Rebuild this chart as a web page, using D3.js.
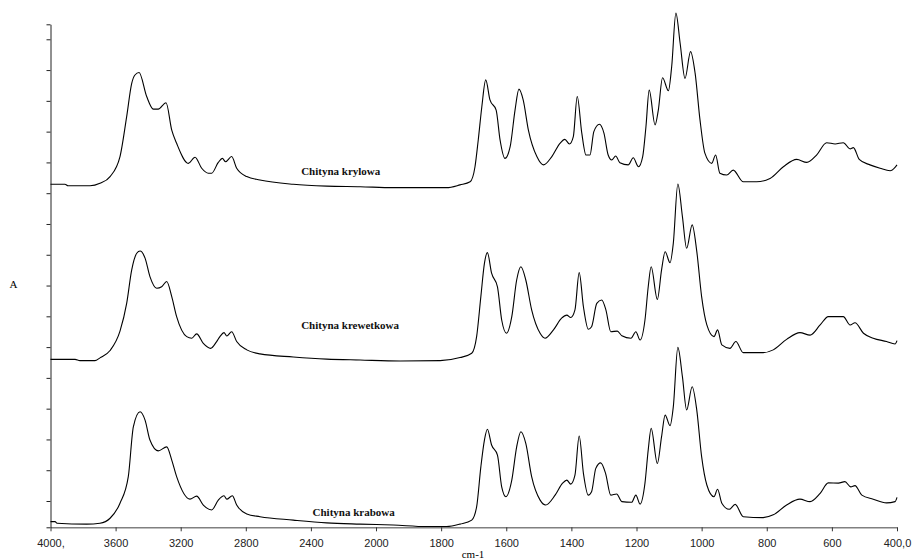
<!DOCTYPE html>
<html lang="pl">
<head>
<meta charset="UTF-8">
<title>Chityna FTIR</title>
<script src="https://cdnjs.cloudflare.com/ajax/libs/d3/7.8.0/d3.min.js"></script>
<style>
    body { margin: 0; background: #fff; }
    svg { display: block; font-family: "Liberation Serif", "Times New Roman", serif; }
    .spectrum { fill: none; stroke: #000; stroke-width: 1.1; }
    .tick text { font-size: 11px; fill: #222; }
    .label { font-size: 11px; font-weight: bold; fill: #111; }
</style>
</head>
<body>
<svg id="viz" width="912" height="560"></svg>
<script>
// wavenumbers (cm-1) and absorbance, one list per sample
const krylowaWn = [4000,3911,3892,3757,3696,3634,3573,3532,3501,3481,3456,3409,3368,3338,3290,3255,3225,3153,3112,3071,3030,3010,2969,2944,2924,2887,2856,2794,2713,2508,2303,2098,1947,1783,1742,1711,1696,1686,1675,1663,1650,1631,1619,1604,1588,1573,1561,1548,1532,1506,1486,1460,1435,1420,1406,1394,1382,1368,1355,1343,1331,1314,1300,1287,1276,1264,1251,1225,1210,1194,1181,1171,1161,1143,1133,1120,1102,1092,1079,1066,1051,1034,1020,1005,990,969,957,944,923,903,872,831,790,749,708,677,647,616,590,565,544,534,516,483,452,421,406,400];
const krylowaA = [1.029,1.029,1.024,1.024,1.032,1.054,1.119,1.249,1.357,1.384,1.392,1.314,1.273,1.273,1.294,1.205,1.162,1.097,1.117,1.081,1.065,1.065,1.100,1.113,1.102,1.119,1.081,1.054,1.043,1.029,1.023,1.021,1.018,1.018,1.027,1.037,1.086,1.173,1.281,1.368,1.303,1.270,1.173,1.113,1.151,1.270,1.338,1.303,1.205,1.119,1.092,1.119,1.162,1.175,1.160,1.184,1.314,1.195,1.124,1.124,1.200,1.224,1.195,1.124,1.108,1.121,1.099,1.092,1.115,1.086,1.119,1.216,1.335,1.222,1.270,1.375,1.333,1.411,1.585,1.487,1.373,1.460,1.390,1.238,1.130,1.097,1.124,1.065,1.059,1.075,1.037,1.037,1.048,1.086,1.110,1.100,1.124,1.164,1.160,1.164,1.144,1.148,1.110,1.092,1.081,1.073,1.084,1.092];

const krewetkowaWn = [4000,3849,3819,3727,3696,3634,3573,3532,3501,3470,3450,3419,3389,3347,3317,3286,3255,3225,3163,3132,3102,3061,3016,2979,2959,2934,2917,2887,2856,2794,2713,2508,2303,2098,1926,1803,1742,1706,1691,1678,1667,1658,1645,1627,1614,1599,1583,1568,1555,1540,1522,1496,1481,1455,1430,1414,1402,1389,1376,1363,1348,1338,1322,1307,1294,1279,1259,1245,1217,1202,1189,1174,1164,1155,1136,1123,1112,1097,1087,1073,1059,1046,1029,1015,1000,984,962,951,938,913,895,872,811,780,739,698,667,636,611,565,544,529,503,473,432,406,400];
const krewetkowaA = [0.460,0.460,0.456,0.456,0.465,0.489,0.552,0.642,0.751,0.805,0.812,0.789,0.729,0.691,0.696,0.713,0.664,0.599,0.534,0.529,0.543,0.512,0.496,0.518,0.534,0.547,0.536,0.550,0.518,0.491,0.478,0.468,0.461,0.458,0.455,0.456,0.466,0.480,0.534,0.664,0.772,0.807,0.740,0.696,0.588,0.545,0.599,0.718,0.761,0.718,0.621,0.545,0.529,0.556,0.594,0.604,0.596,0.621,0.742,0.631,0.558,0.566,0.642,0.653,0.621,0.550,0.552,0.537,0.529,0.550,0.523,0.588,0.696,0.761,0.655,0.751,0.810,0.774,0.837,1.030,0.924,0.821,0.897,0.812,0.664,0.572,0.534,0.556,0.507,0.496,0.518,0.482,0.482,0.491,0.525,0.547,0.539,0.572,0.599,0.599,0.572,0.579,0.545,0.529,0.518,0.510,0.521];

const krabowaWn = [4000,3972,3960,3778,3696,3634,3573,3522,3491,3450,3419,3389,3338,3286,3255,3225,3143,3102,3061,3010,2969,2934,2917,2883,2856,2794,2713,2508,2303,2098,1947,1844,1783,1742,1706,1691,1678,1667,1658,1645,1627,1614,1601,1583,1568,1555,1540,1522,1496,1479,1450,1427,1414,1402,1389,1376,1363,1348,1338,1325,1310,1295,1279,1261,1245,1215,1202,1189,1174,1164,1155,1136,1123,1112,1097,1087,1073,1059,1046,1029,1015,1000,984,962,951,938,915,897,872,811,780,739,698,667,636,611,580,560,542,529,508,473,432,406,400];
const krabowaA = [-0.067,-0.067,-0.072,-0.075,-0.072,-0.056,-0.007,0.079,0.241,0.290,0.263,0.198,0.163,0.176,0.133,0.079,0.006,0.016,-0.013,-0.029,0.003,0.017,0.006,0.017,-0.013,-0.042,-0.051,-0.062,-0.071,-0.075,-0.078,-0.083,-0.083,-0.075,-0.062,-0.019,0.111,0.198,0.233,0.182,0.149,0.046,0.014,0.068,0.176,0.225,0.187,0.079,0.003,-0.013,0.019,0.058,0.068,0.055,0.084,0.211,0.090,0.019,0.030,0.106,0.124,0.090,0.019,0.023,-0.002,-0.004,0.019,-0.010,0.058,0.166,0.236,0.122,0.209,0.279,0.245,0.306,0.499,0.404,0.296,0.371,0.296,0.144,0.052,0.014,0.038,-0.007,-0.027,-0.011,-0.051,-0.054,-0.045,-0.013,0.006,-0.002,0.025,0.059,0.058,0.063,0.046,0.050,0.019,0.006,-0.006,-0.002,0.012];

const seriesNames = ["Chityna krylowa", "Chityna krewetkowa", "Chityna krabowa"];

const xTicks = [4000,3600,3200,2800,2400,2000,1800,1600,1400,1200,1000,800,600,400];
const xTickLabels = ["4000,","3600","3200","2800","2400","2000","1800","1600","1400","1200","1000","800","600","400,0"];
const yTicks = [-0.0854,0,0.1,0.2,0.3,0.4,0.5,0.6,0.7,0.8,0.9,1.0,1.1,1.2,1.3,1.4,1.5,1.5487];

const svg = d3.select('#viz');

// the wavenumber axis changes scale at 2000 cm-1, like the spectrometer printout
const x = d3.scaleLinear().domain([4000, 2000, 400]).range([50.5, 376, 897]);
const y = d3.scaleLinear().domain([-0.0854, 1.5487]).range([527.3, 24.3]);

const xAxis = svg.append('g')
    .attr('transform', 'translate(0,527.3)')
    .call(d3.axisBottom(x).tickValues(xTicks).tickSize(4).tickSizeOuter(0)
        .tickFormat((d, i) => xTickLabels[i]));
xAxis.select('.domain').attr('stroke', '#808080').attr('stroke-width', 1.6);
xAxis.selectAll('.tick line').attr('stroke', '#333');
xAxis.selectAll('.tick text').attr('y', 20).attr('dy', 0);

const yAxis = svg.append('g')
    .attr('transform', 'translate(50.5,0)')
    .call(d3.axisLeft(y).tickValues(yTicks).tickSize(4).tickSizeOuter(0).tickFormat(''));
yAxis.select('.domain').attr('stroke', '#222');
yAxis.selectAll('.tick line').attr('stroke', '#222');

const line = d3.line()
    .x(d => x(d[0]))
    .y(d => y(d[1]))
    .curve(d3.curveMonotoneX);

const spectra = [
    d3.zip(krylowaWn, krylowaA),
    d3.zip(krewetkowaWn, krewetkowaA),
    d3.zip(krabowaWn, krabowaA)
];

svg.selectAll('.spectrum')
    .data(spectra)
    .enter().append('path')
    .attr('class', 'spectrum')
    .attr('d', line);

// sample names sit just above each baseline
const labelPos = [[2460, 1.06], [2460, 0.56], [2390, -0.05]];
svg.selectAll('.label')
    .data(seriesNames)
    .enter().append('text')
    .attr('class', 'label')
    .attr('x', (d, i) => x(labelPos[i][0]))
    .attr('y', (d, i) => y(labelPos[i][1]))
    .text(d => d);

svg.append('text')
    .attr('x', 13.5).attr('y', 288)
    .attr('text-anchor', 'middle')
    .style('font-size', '11px')
    .text('A');

svg.append('text')
    .attr('x', 473).attr('y', 558)
    .attr('text-anchor', 'middle')
    .style('font-size', '11px')
    .text('cm-1');
</script>
</body>
</html>
